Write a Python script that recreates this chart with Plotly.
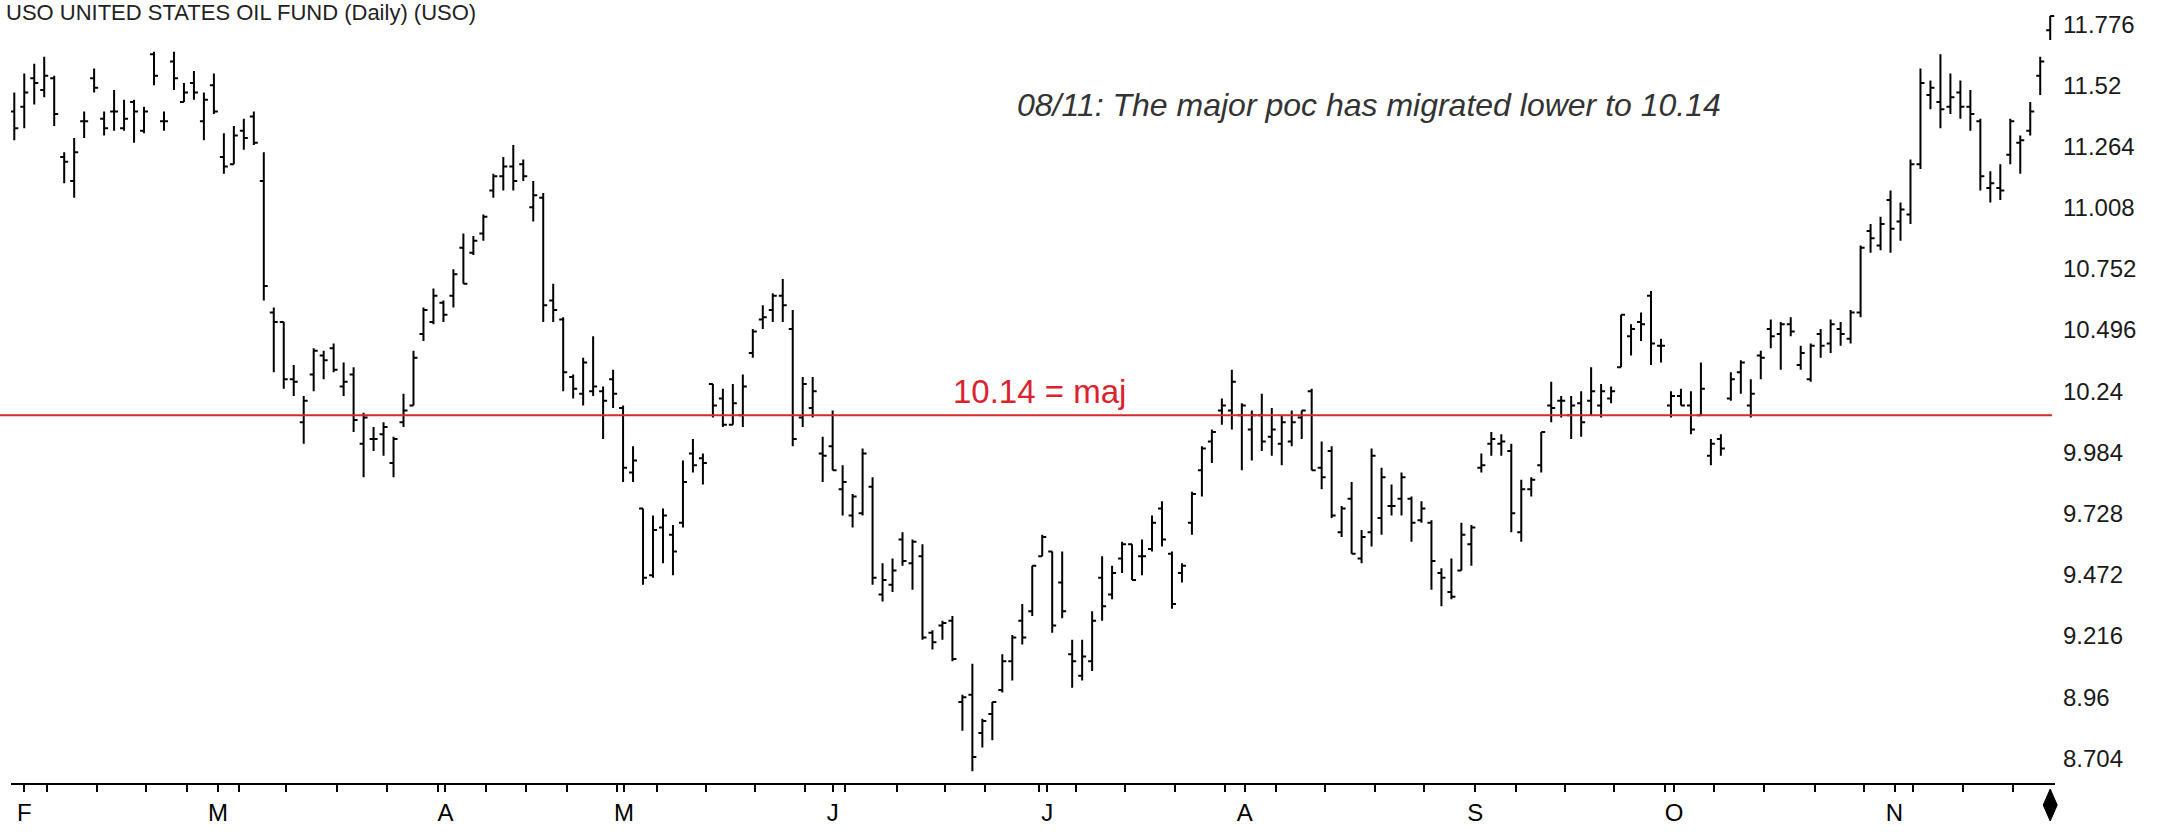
import plotly.graph_objects as go

# ---- data ----
opens = [11.41, 11.43, 11.55, 11.50, 11.55, 11.22, 11.12, 11.37, 11.55, 11.38,
         11.41, 11.34, 11.45, 11.33, 11.65, 11.37, 11.62, 11.45, 11.53, 11.37,
         11.52, 11.22, 11.19, 11.33, 11.39, 11.12, 10.57, 10.53, 10.29, 10.11,
         10.31, 10.39, 10.42, 10.26, 10.31, 10.02, 10.04, 10.06, 9.94, 10.11,
         10.18, 10.48, 10.53, 10.61, 10.64, 10.84, 10.82, 10.90, 11.08, 11.14,
         11.18, 11.19, 11.01, 11.05, 10.62, 10.54, 10.30, 10.23, 10.24, 10.24,
         10.29, 10.17, 9.90, 9.75, 9.47, 9.67, 9.64, 9.69, 9.98, 9.96,
         10.27, 10.21, 10.10, 10.14, 10.40, 10.54, 10.58, 10.64, 10.50, 10.13,
         10.17, 9.98, 10.01, 9.83, 9.72, 9.73, 9.84, 9.39, 9.43, 9.62,
         9.52, 9.55, 9.23, 9.26, 9.28, 8.94, 8.97, 8.81, 8.89, 8.99,
         9.11, 9.28, 9.32, 9.55, 9.57, 9.44, 9.14, 9.05, 9.11, 9.46,
         9.39, 9.54, 9.60, 9.55, 9.58, 9.75, 9.56, 9.48, 9.69, 9.91,
         10.03, 10.16, 10.16, 10.14, 10.08, 10.14, 10.05, 10.02, 10.03, 10.13,
         10.24, 9.92, 9.99, 9.65, 9.79, 9.54, 9.65, 9.71, 9.76, 9.79,
         9.79, 9.70, 9.69, 9.48, 9.40, 9.49, 9.60, 9.92, 10.02, 10.02,
         9.99, 9.65, 9.83, 9.93, 10.18, 10.20, 10.14, 10.19, 10.20, 10.18,
         10.21, 10.34, 10.47, 10.53, 10.64, 10.43, 10.18, 10.22, 10.18, 10.14,
         9.97, 10.04, 10.21, 10.32, 10.18, 10.39, 10.50, 10.48, 10.52, 10.35,
         10.29, 10.48, 10.44, 10.50, 10.46, 10.57, 10.91, 10.85, 11.04, 10.95,
         10.98, 11.19, 11.48, 11.45, 11.43, 11.49, 11.43, 11.37, 11.09, 11.09,
         11.23, 11.28, 11.33, 11.56, 11.75]

highs = [11.49, 11.57, 11.61, 11.64, 11.56, 11.24, 11.30, 11.41, 11.59, 11.41,
         11.50, 11.46, 11.46, 11.43, 11.66, 11.41, 11.66, 11.53, 11.58, 11.49,
         11.57, 11.32, 11.35, 11.38, 11.41, 11.24, 10.59, 10.53, 10.35, 10.22,
         10.42, 10.41, 10.44, 10.36, 10.34, 10.15, 10.09, 10.11, 10.05, 10.23,
         10.41, 10.59, 10.67, 10.62, 10.75, 10.90, 10.89, 10.98, 11.15, 11.22,
         11.27, 11.21, 11.12, 11.07, 10.69, 10.55, 10.31, 10.38, 10.47, 10.26,
         10.33, 10.18, 10.01, 9.75, 9.72, 9.75, 9.68, 9.95, 10.04, 9.98,
         10.27, 10.25, 10.27, 10.31, 10.50, 10.60, 10.65, 10.71, 10.58, 10.30,
         10.30, 10.05, 10.16, 9.93, 9.81, 10.00, 9.88, 9.52, 9.54, 9.65,
         9.62, 9.60, 9.24, 9.28, 9.30, 8.97, 9.10, 8.87, 8.94, 9.14,
         9.22, 9.35, 9.51, 9.64, 9.57, 9.57, 9.20, 9.20, 9.32, 9.55,
         9.51, 9.61, 9.60, 9.62, 9.72, 9.78, 9.57, 9.52, 9.82, 10.01,
         10.08, 10.21, 10.33, 10.19, 10.16, 10.23, 10.17, 10.14, 10.16, 10.16,
         10.25, 10.03, 10.01, 9.76, 9.86, 9.66, 10.00, 9.92, 9.85, 9.90,
         9.80, 9.78, 9.70, 9.50, 9.54, 9.69, 9.68, 9.98, 10.07, 10.06,
         10.02, 9.87, 9.88, 10.07, 10.28, 10.22, 10.22, 10.24, 10.34, 10.27,
         10.26, 10.56, 10.52, 10.57, 10.66, 10.46, 10.24, 10.25, 10.24, 10.36,
         10.04, 10.06, 10.32, 10.37, 10.29, 10.41, 10.54, 10.53, 10.55, 10.43,
         10.44, 10.50, 10.54, 10.53, 10.58, 10.85, 10.94, 10.97, 11.08, 11.03,
         11.21, 11.59, 11.54, 11.65, 11.57, 11.54, 11.50, 11.38, 11.16, 11.19,
         11.38, 11.31, 11.45, 11.64, 11.81]

lows = [11.29, 11.34, 11.44, 11.47, 11.35, 11.11, 11.05, 11.30, 11.49, 11.31,
        11.33, 11.33, 11.28, 11.32, 11.52, 11.33, 11.50, 11.45, 11.46, 11.29,
        11.40, 11.15, 11.19, 11.25, 11.27, 10.62, 10.32, 10.25, 10.22, 10.02,
        10.24, 10.29, 10.32, 10.22, 10.07, 9.88, 9.99, 9.97, 9.88, 10.09,
        10.18, 10.45, 10.52, 10.53, 10.59, 10.69, 10.81, 10.87, 11.05, 11.08,
        11.08, 11.12, 10.95, 10.53, 10.53, 10.24, 10.21, 10.18, 10.22, 10.04,
        10.17, 9.86, 9.86, 9.43, 9.46, 9.52, 9.47, 9.67, 9.90, 9.85,
        10.13, 10.09, 10.10, 10.09, 10.38, 10.50, 10.53, 10.53, 10.01, 10.09,
        10.13, 9.86, 9.91, 9.72, 9.67, 9.72, 9.43, 9.36, 9.40, 9.51,
        9.41, 9.20, 9.16, 9.20, 9.11, 8.82, 8.65, 8.75, 8.78, 8.98,
        9.03, 9.18, 9.30, 9.55, 9.23, 9.29, 9.00, 9.03, 9.07, 9.28,
        9.37, 9.48, 9.45, 9.47, 9.57, 9.59, 9.33, 9.44, 9.64, 9.80,
        9.94, 10.10, 10.08, 9.91, 9.95, 9.99, 9.97, 9.93, 10.01, 10.04,
        9.91, 9.83, 9.71, 9.63, 9.56, 9.52, 9.59, 9.64, 9.72, 9.72,
        9.61, 9.69, 9.41, 9.34, 9.37, 9.49, 9.51, 9.90, 9.97, 9.97,
        9.65, 9.61, 9.80, 9.90, 10.11, 10.13, 10.04, 10.05, 10.14, 10.13,
        10.19, 10.34, 10.39, 10.45, 10.35, 10.36, 10.13, 10.18, 10.06, 10.14,
        9.93, 9.97, 10.20, 10.23, 10.13, 10.29, 10.42, 10.33, 10.47, 10.33,
        10.28, 10.38, 10.40, 10.43, 10.44, 10.55, 10.82, 10.83, 10.82, 10.87,
        10.94, 11.17, 11.42, 11.34, 11.40, 11.38, 11.33, 11.08, 11.03, 11.04,
        11.19, 11.15, 11.31, 11.48, 11.71]

closes = [11.34, 11.49, 11.53, 11.56, 11.40, 11.20, 11.24, 11.37, 11.51, 11.34,
          11.41, 11.38, 11.41, 11.41, 11.56, 11.37, 11.55, 11.49, 11.49, 11.46,
          11.41, 11.18, 11.31, 11.30, 11.28, 10.68, 10.53, 10.29, 10.28, 10.20,
          10.41, 10.37, 10.33, 10.28, 10.12, 10.13, 10.04, 10.09, 10.04, 10.16,
          10.38, 10.58, 10.64, 10.56, 10.73, 10.69, 10.87, 10.97, 11.14, 11.18,
          11.12, 11.14, 11.06, 10.60, 10.58, 10.32, 10.25, 10.36, 10.26, 10.20,
          10.23, 9.92, 9.95, 9.46, 9.66, 9.72, 9.57, 9.86, 9.93, 9.94,
          10.18, 10.10, 10.19, 10.26, 10.49, 10.55, 10.64, 10.60, 10.04, 10.27,
          10.24, 9.97, 9.91, 9.86, 9.80, 9.98, 9.46, 9.45, 9.49, 9.53,
          9.61, 9.21, 9.19, 9.27, 9.12, 8.96, 8.71, 8.86, 8.94, 9.11,
          9.21, 9.21, 9.51, 9.63, 9.26, 9.32, 9.11, 9.13, 9.28, 9.34,
          9.48, 9.60, 9.45, 9.55, 9.69, 9.62, 9.35, 9.51, 9.81, 10.00,
          10.07, 10.18, 10.28, 10.18, 10.14, 10.03, 10.08, 10.11, 10.11, 10.16,
          9.91, 9.88, 9.72, 9.75, 9.56, 9.63, 9.97, 9.88, 9.76, 9.88,
          9.69, 9.75, 9.53, 9.46, 9.38, 9.64, 9.67, 9.93, 10.04, 10.03,
          9.73, 9.83, 9.87, 10.07, 10.17, 10.20, 10.18, 10.11, 10.24, 10.24,
          10.24, 10.56, 10.50, 10.52, 10.44, 10.43, 10.22, 10.18, 10.08, 10.25,
          10.02, 10.00, 10.29, 10.36, 10.23, 10.38, 10.47, 10.52, 10.49, 10.40,
          10.43, 10.43, 10.52, 10.48, 10.57, 10.84, 10.88, 10.94, 10.92, 11.00,
          11.19, 11.53, 11.51, 11.42, 11.47, 11.43, 11.40, 11.14, 11.11, 11.08,
          11.37, 11.29, 11.41, 11.62, 11.81]

bar_index = list(range(len(opens)))

month_pos = [1.0, 20.4, 43.2, 61.1, 82.0, 103.5, 123.3, 146.4, 166.3, 188.4]
month_labels = ["F", "M", "A", "M", "J", "J", "A", "S", "O", "N"]
week_pos = [3.3, 8.3, 13.2, 17.3, 22.5, 27.2, 32.3, 37.3, 42.5, 47.3, 51.3,
            55.4, 60.4, 64.4, 69.3, 74.2, 79.2, 83.2, 88.4, 93.3, 97.3, 102.7,
            106.4, 111.3, 116.3, 121.3, 126.4, 131.3, 136.3, 141.3, 150.5,
            155.4, 160.3, 165.4, 170.3, 175.3, 180.4, 185.3, 190.3, 195.3, 200.3]

price_ticks = [11.776, 11.52, 11.264, 11.008, 10.752, 10.496, 10.24, 9.984,
               9.728, 9.472, 9.216, 8.96, 8.704]
price_labels = ["11.776", "11.52", "11.264", "11.008", "10.752", "10.496",
                "10.24", "9.984", "9.728", "9.472", "9.216", "8.96", "8.704"]

poc_level = 10.14
poc_label = "10.14 = maj"
note_text = "08/11: The major poc has migrated lower to 10.14"
title_text = "USO UNITED STATES OIL FUND (Daily) (USO)"

# ---- figure ----
FONT = "Liberation Sans, Arial, sans-serif"
W, H = 2163, 832
ML, MR, MT, MB = 11, 108, 0, 49
plot_w = W - ML - MR
plot_h = H - MT - MB
X_RANGE = [-0.33, 204.48]
Y_RANGE = [8.601, 11.877]

ticks_all = sorted([(p, t) for p, t in zip(month_pos, month_labels)] +
                   [(p, "") for p in week_pos])

fig = go.Figure()
fig.add_trace(go.Ohlc(
    x=bar_index, open=opens, high=highs, low=lows, close=closes,
    increasing=dict(line=dict(color="black", width=2)),
    decreasing=dict(line=dict(color="black", width=2)),
    tickwidth=0.4, hoverinfo="skip", showlegend=False,
))

# end-of-data diamond under the last bar (paper coords, below the axis line)
xc = (bar_index[-1] - X_RANGE[0]) / (X_RANGE[1] - X_RANGE[0])
yc = -22 / plot_h
dx = 7 / plot_w
dy = 16 / plot_h
fig.add_shape(type="path", xref="paper", yref="paper",
              path=f"M {xc} {yc + dy} L {xc + dx} {yc} L {xc} {yc - dy} L {xc - dx} {yc} Z",
              fillcolor="black", line=dict(color="black", width=1))

fig.add_shape(type="line", xref="paper", yref="y",
              x0=-ML / plot_w, x1=(2052 - ML) / plot_w,
              y0=poc_level, y1=poc_level,
              line=dict(color="#d42a2a", width=2))

fig.add_annotation(x=102.7, y=poc_level, xref="x", yref="y",
                   text=poc_label, showarrow=False,
                   xanchor="center", yanchor="bottom", yshift=3,
                   font=dict(family=FONT, size=33, color="#d9242f"))

fig.add_annotation(x=100.3, y=11.438, xref="x", yref="y",
                   text="<i>" + note_text + "</i>", showarrow=False,
                   xanchor="left", yanchor="middle",
                   font=dict(family=FONT, size=32, color="#333333"))

fig.add_annotation(x=(4 - ML) / plot_w, y=1, xref="paper", yref="paper",
                   text=title_text, showarrow=False,
                   xanchor="left", yanchor="top", yshift=2,
                   font=dict(family=FONT, size=22, color="#222222"))

fig.update_layout(
    width=W, height=H,
    margin=dict(l=ML, r=MR, t=MT, b=MB),
    paper_bgcolor="white", plot_bgcolor="white",
    showlegend=False,
    xaxis=dict(
        range=X_RANGE,
        tickmode="array",
        tickvals=[p for p, _ in ticks_all],
        ticktext=[t for _, t in ticks_all],
        ticks="outside", ticklen=7, tickwidth=2, tickcolor="black",
        showline=True, linecolor="black", linewidth=2,
        showgrid=False, zeroline=False,
        rangeslider=dict(visible=False),
        tickfont=dict(family=FONT, size=24, color="black"),
        fixedrange=True,
    ),
    yaxis=dict(
        side="right",
        range=Y_RANGE,
        tickmode="array",
        tickvals=price_ticks, ticktext=price_labels,
        ticks="", showline=False, showgrid=False, zeroline=False,
        ticklabelstandoff=7,
        tickfont=dict(family=FONT, size=24, color="#1a1a1a"),
        fixedrange=True,
    ),
)

fig.write_html("out.html",
               config={"displayModeBar": False},
               post_script="document.body.style.margin='0';"
                           "document.body.style.overflow='hidden';")
